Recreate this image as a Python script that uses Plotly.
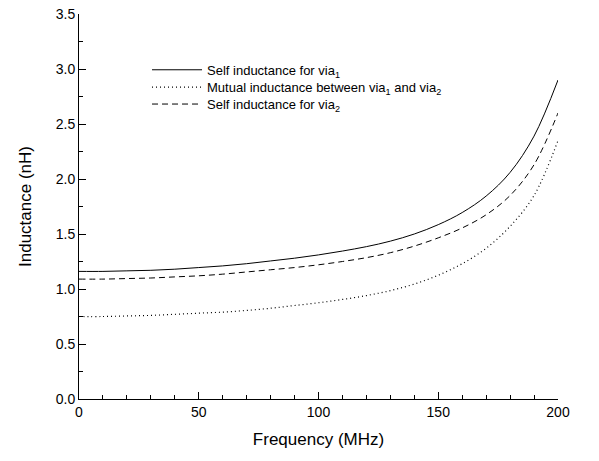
import plotly.graph_objects as go

freq = [0, 10, 20, 30, 40, 50, 60, 70, 80, 90, 100, 110, 120, 130, 140, 150, 160, 170, 180, 190, 200]
self_via1 = [1.16, 1.16, 1.165, 1.17, 1.18, 1.195, 1.21, 1.23, 1.255, 1.28, 1.31, 1.345, 1.385, 1.435, 1.50, 1.585, 1.695, 1.845, 2.06, 2.39, 2.90]
mutual = [0.75, 0.75, 0.755, 0.76, 0.77, 0.78, 0.79, 0.805, 0.825, 0.85, 0.875, 0.905, 0.94, 0.985, 1.045, 1.125, 1.23, 1.37, 1.57, 1.85, 2.35]
self_via2 = [1.09, 1.09, 1.095, 1.10, 1.11, 1.12, 1.135, 1.155, 1.175, 1.195, 1.22, 1.25, 1.285, 1.33, 1.39, 1.465, 1.555, 1.675, 1.85, 2.13, 2.60]

names = ["Self inductance for via<sub>1</sub>",
         "Mutual inductance between via<sub>1</sub> and via<sub>2</sub>",
         "Self inductance for via<sub>2</sub>"]

x_ticks = [0, 50, 100, 150, 200]
y_ticks = [0.0, 0.5, 1.0, 1.5, 2.0, 2.5, 3.0, 3.5]

fig = go.Figure()
fig.add_trace(go.Scatter(x=freq, y=self_via1, mode="lines", name=names[0], legend="legend",
                         line=dict(color="black", width=1, dash="solid", shape="spline")))
fig.add_trace(go.Scatter(x=freq, y=mutual, mode="lines", name=names[1], legend="legend2",
                         line=dict(color="black", width=1.2, dash="1px,3px", shape="spline")))
fig.add_trace(go.Scatter(x=freq, y=self_via2, mode="lines", name=names[2], legend="legend3",
                         line=dict(color="black", width=1, dash="6px,4px", shape="spline")))

fnt = "Arial, Liberation Sans, sans-serif"


def leg(yc):
    return dict(x=0.142, y=yc, xanchor="left", yanchor="middle",
                bgcolor="rgba(0,0,0,0)", font=dict(size=13, family=fnt, color="black"),
                itemwidth=50, borderwidth=0)


fig.update_layout(
    width=599, height=461,
    margin=dict(l=79, r=41, t=14, b=62, autoexpand=False),
    paper_bgcolor="white", plot_bgcolor="white",
    font=dict(family=fnt, color="black", size=13),
    showlegend=True,
    legend=leg(0.855),
    legend2=leg(0.810),
    legend3=leg(0.766),
    xaxis=dict(range=[0, 200], tickvals=x_ticks, ticktext=[str(v) for v in x_ticks],
               showline=True, linecolor="black", linewidth=1, mirror=False,
               showgrid=False, zeroline=False, automargin=False,
               ticks="inside", ticklen=7, tickcolor="black", tickwidth=1,
               minor=dict(dtick=10, ticks="inside", ticklen=4, tickcolor="black", tickwidth=1, showgrid=False),
               tickfont=dict(size=14, family=fnt),
               title=dict(text="Frequency (MHz)", font=dict(size=17, family=fnt), standoff=14)),
    yaxis=dict(range=[0, 3.5], tickvals=y_ticks, ticktext=[f"{v:.1f}" for v in y_ticks],
               showline=True, linecolor="black", linewidth=1, mirror=False,
               showgrid=False, zeroline=False, automargin=False,
               ticks="inside", ticklen=7, tickcolor="black", tickwidth=1,
               minor=dict(dtick=0.25, ticks="inside", ticklen=4, tickcolor="black", tickwidth=1, showgrid=False),
               tickfont=dict(size=14, family=fnt),
               title=dict(text="Inductance (nH)", font=dict(size=17, family=fnt), standoff=19)),
)

fig.write_html("out.html", config={"displayModeBar": False},
               post_script="document.body.style.margin='0';document.body.style.overflow='hidden';")
